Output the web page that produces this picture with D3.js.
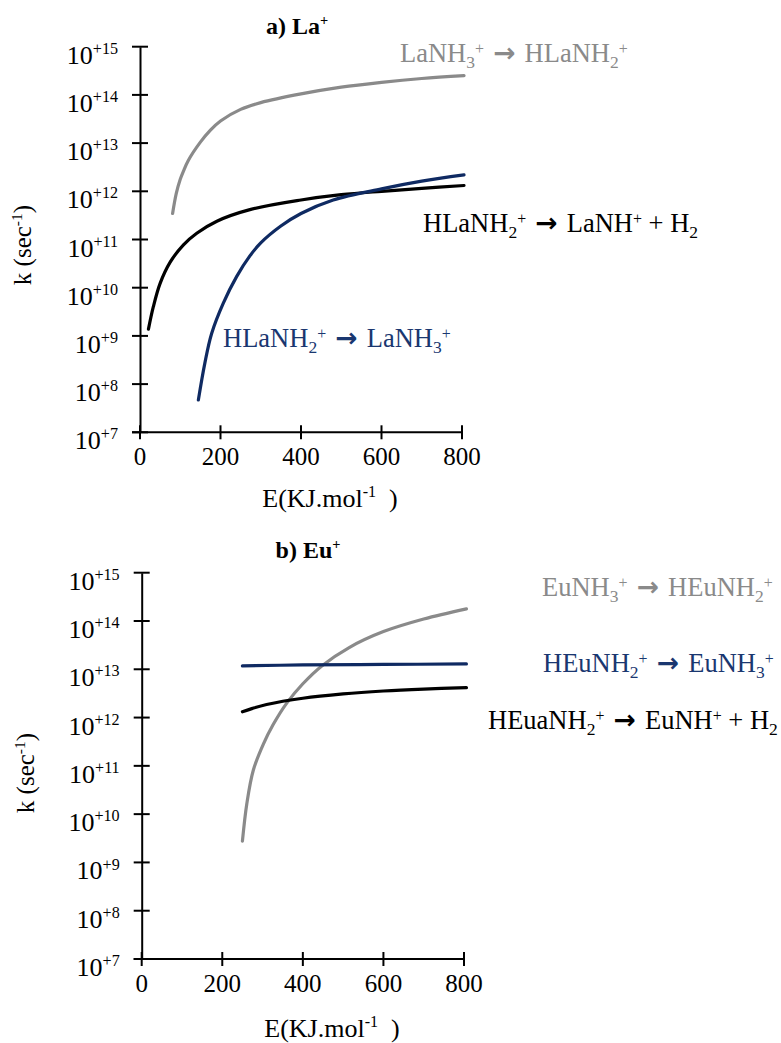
<!DOCTYPE html>
<html><head><meta charset="utf-8">
<script src="https://cdn.jsdelivr.net/npm/d3@7"></script>
<style>body{margin:0;background:#fff}svg{display:block}text{font-family:"Liberation Serif","Times New Roman",serif}</style>
</head><body><svg id="c" width="781" height="1043"></svg>
<script>
// ---------- data (log10 of k in sec^-1 vs E in kJ/mol) ----------
const xTicks = [0, 200, 400, 600, 800];
const yExponents = [7, 8, 9, 10, 11, 12, 13, 14, 15];

// Panel a) La+
const laGrayE    = [81, 90, 100, 108, 120, 150, 175, 200, 250, 300, 400, 500, 600, 700, 805];
const laGrayLogK = [11.54, 11.95, 12.25, 12.42, 12.64, 13.02, 13.27, 13.46, 13.70, 13.84, 14.02, 14.16, 14.26, 14.34, 14.40];
const laBlackE    = [21, 33, 50, 75, 108, 141, 191, 273, 400, 500, 600, 700, 805];
const laBlackLogK = [9.14, 9.60, 10.09, 10.53, 10.89, 11.13, 11.38, 11.62, 11.82, 11.93, 12.00, 12.06, 12.12];
const laBlueE    = [145, 161, 178, 207, 240, 273, 300, 350, 400, 480, 600, 700, 805];
const laBlueLogK = [7.67, 8.43, 9.05, 9.68, 10.23, 10.66, 10.93, 11.28, 11.54, 11.82, 12.05, 12.21, 12.34];

// Panel b) Eu+
const euGrayE    = [250, 261, 277, 302, 326, 360, 400, 447, 515, 600, 700, 806];
const euGrayLogK = [9.44, 10.22, 10.91, 11.45, 11.85, 12.30, 12.70, 13.07, 13.45, 13.78, 14.04, 14.25];
const euBlueE    = [250, 400, 600, 806];
const euBlueLogK = [13.07, 13.09, 13.10, 13.11];
const euBlackE    = [250, 275, 310, 400, 500, 600, 700, 806];
const euBlackLogK = [12.12, 12.19, 12.27, 12.40, 12.49, 12.55, 12.59, 12.62];

const GRAY = "#8a8a8a", BLUE = "#0f2a62", BLUETXT = "#1a3770";

const panels = [
  { title: [["b","a) La"],["bsup","+"]], x0: 140, x1: 462, yTop: 46.7, yBot: 432.3, titleX: 297, titleY: 34,
    ylabX: 31, ylabY: 245, xlabX: 330, xlabY: 507,
    series: [
      {E: laGrayE, L: laGrayLogK, color: GRAY},
      {E: laBlackE, L: laBlackLogK, color: "#000"},
      {E: laBlueE, L: laBlueLogK, color: BLUE}
    ],
    labels: [
      {x: 400, y: 62, color: GRAY, parts: [["n","LaNH"],["sub","3"],["sup","+"],["arr"," → "],["n","HLaNH"],["sub","2"],["sup","+"]]},
      {x: 423, y: 232, color: "#000", parts: [["n","HLaNH"],["sub","2"],["sup","+"],["arr"," → "],["n","LaNH"],["sup","+"],["n"," + H"],["sub","2"]]},
      {x: 223, y: 347, color: BLUETXT, parts: [["n","HLaNH"],["sub","2"],["sup","+"],["arr"," → "],["n","LaNH"],["sub","3"],["sup","+"]]}
    ]},
  { title: [["b","b) Eu"],["bsup","+"]], x0: 141.7, x1: 464, yTop: 572.7, yBot: 959, titleX: 308, titleY: 558,
    ylabX: 34, ylabY: 773, xlabX: 332, xlabY: 1037,
    series: [
      {E: euGrayE, L: euGrayLogK, color: GRAY},
      {E: euBlackE, L: euBlackLogK, color: "#000"},
      {E: euBlueE, L: euBlueLogK, color: BLUE}
    ],
    labels: [
      {x: 542, y: 596, color: GRAY, parts: [["n","EuNH"],["sub","3"],["sup","+"],["arr"," → "],["n","HEuNH"],["sub","2"],["sup","+"]]},
      {x: 543, y: 672, color: BLUETXT, parts: [["n","HEuNH"],["sub","2"],["sup","+"],["arr"," → "],["n","EuNH"],["sub","3"],["sup","+"]]},
      {x: 488, y: 729, color: "#000", parts: [["n","HEuaNH"],["sub","2"],["sup","+"],["arr"," → "],["n","EuNH"],["sup","+"],["n"," + H"],["sub","2"]]}
    ]}
];

const svg = d3.select("#c");
const FS = 26.5;

function rich(sel, parts, fs, opt) {
  opt = opt || {};
  let shift = 0;
  parts.forEach(([kind, str]) => {
    let target = 0, size = fs;
    if (kind === "sub") { target = fs * 0.22; size = fs * 0.66; }
    if (kind === "sup") { target = -fs * (opt.supShift || 0.32); size = fs * (opt.supSize || 0.6); }
    if (kind === "bsup") { target = -fs * 0.36; size = fs * 0.6; }
    const t = sel.append("tspan").attr("dy", target - shift).attr("font-size", size).text(str);
    if (kind === "b" || kind === "bsup") t.attr("font-weight", "bold");
    if (kind === "arr") t.attr("font-weight", "bold").attr("font-family", "DejaVu Sans");
    shift = target;
  });
}

panels.forEach(p => {
  const x = d3.scaleLinear().domain([0, 800]).range([p.x0, p.x1]);
  const y = d3.scaleLog().domain([1e7, 1e15]).range([p.yBot, p.yTop]);
  const g = svg.append("g");

  // y axis line from d3's axis generator
  const yAxis = d3.axisLeft(y).tickValues(yExponents.map(e => Math.pow(10, e))).tickSize(0).tickFormat("");
  const ya = g.append("g").attr("transform", `translate(${p.x0},0)`).call(yAxis);
  ya.select(".domain").attr("stroke", "#000").attr("stroke-width", 2);
  g.append("line").attr("x1", p.x0 - 8).attr("x2", x(800)).attr("y1", p.yBot).attr("y2", p.yBot)
    .attr("stroke", "#000").attr("stroke-width", 2);

  // tick marks crossing the axes + labels
  yExponents.forEach(e => {
    g.append("line").attr("x1", p.x0 - 8).attr("x2", p.x0 + 8).attr("y1", y(Math.pow(10, e))).attr("y2", y(Math.pow(10, e)))
      .attr("stroke", "#000").attr("stroke-width", 2);
    const t = g.append("text").attr("x", p.x0 - 22).attr("y", y(Math.pow(10, e)) + 17)
      .attr("text-anchor", "end").attr("font-size", 26);
    rich(t, [["n", "10"], ["sup", "+" + e]], 26, {supShift: 0.38, supSize: 0.62});
  });
  xTicks.forEach(v => {
    g.append("line").attr("x1", x(v)).attr("x2", x(v)).attr("y1", p.yBot - 7).attr("y2", p.yBot + 7)
      .attr("stroke", "#000").attr("stroke-width", 2);
    g.append("text").attr("x", x(v)).attr("y", p.yBot + 33).attr("text-anchor", "middle")
      .attr("font-size", 25).text(v);
  });

  // series
  const line = d3.line().x(d => x(d[0])).y(d => y(Math.pow(10, d[1]))).curve(d3.curveCatmullRom.alpha(0.5));
  p.series.forEach(s => {
    g.append("path").datum(s.E.map((e, i) => [e, s.L[i]])).attr("d", line)
      .attr("fill", "none").attr("stroke", s.color).attr("stroke-width", 3.2).attr("stroke-linecap", "round");
  });

  // labels
  p.labels.forEach(l => {
    const t = g.append("text").attr("x", l.x).attr("y", l.y).attr("fill", l.color).attr("font-size", FS)
      .attr("xml:space", "preserve");
    rich(t, l.parts, FS);
  });

  // title
  const tt = g.append("text").attr("x", p.titleX).attr("y", p.titleY).attr("text-anchor", "middle").attr("font-size", 24);
  rich(tt, p.title, 24);

  // axis titles
  const yl = g.append("text").attr("transform", `translate(${p.ylabX},${p.ylabY}) rotate(-90)`)
    .attr("text-anchor", "middle").attr("font-size", 25);
  rich(yl, [["n", "k (sec"], ["sup", "-1"], ["n", ")"]], 25, {supShift: 0.38, supSize: 0.62});
  const xl = g.append("text").attr("x", p.xlabX).attr("y", p.xlabY)
    .attr("text-anchor", "middle").attr("font-size", 26).attr("xml:space", "preserve");
  rich(xl, [["n", "E(KJ.mol"], ["sup", "-1"], ["n", "  )"]], 26, {supShift: 0.38, supSize: 0.62});
});
</script></body></html>
